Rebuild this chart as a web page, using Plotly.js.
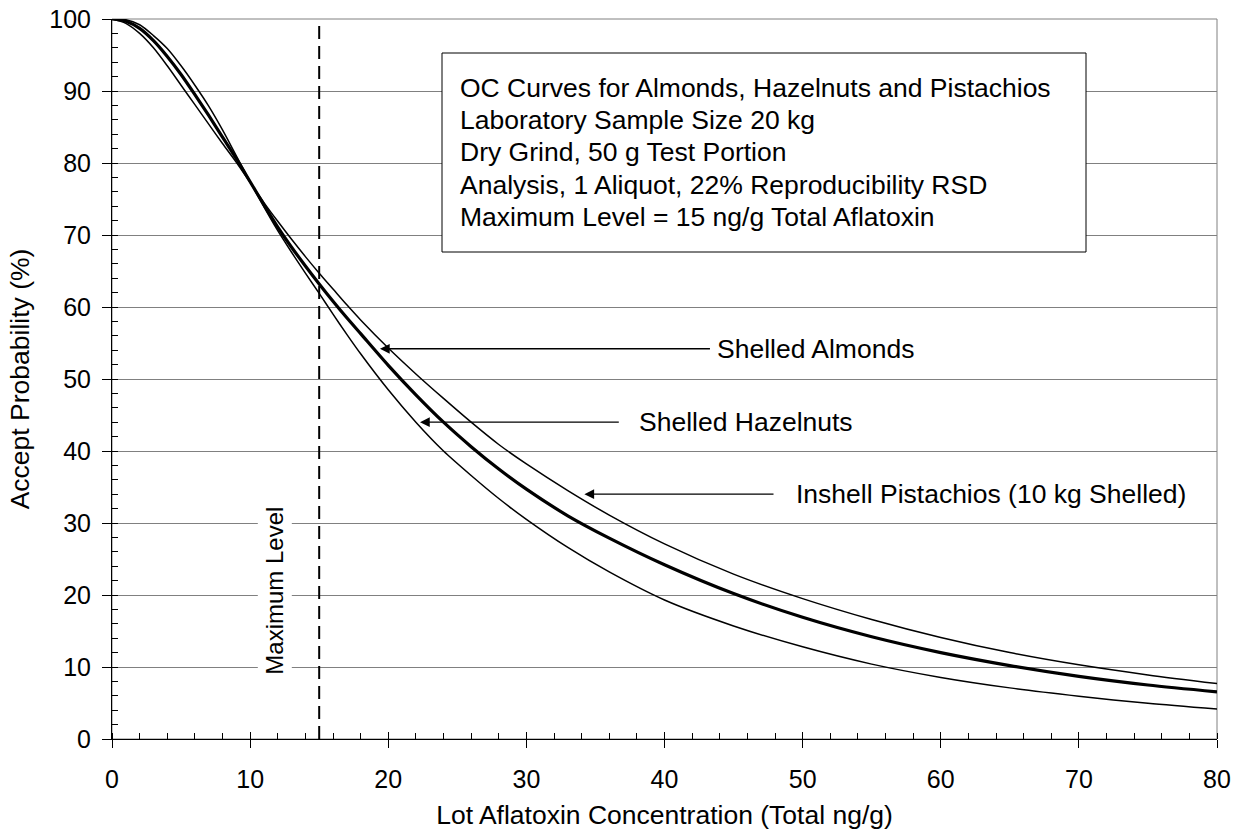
<!DOCTYPE html>
<html>
<head>
<meta charset="utf-8">
<script src="https://cdn.plot.ly/plotly-3.0.1.min.js"></script>
<style>
  html, body { margin: 0; padding: 0; background: #ffffff; }
  #chart { width: 1240px; height: 838px; }
</style>
</head>
<body>
<div id="chart"></div>
<script>
// Lot aflatoxin concentration (ng/g)
const concentration = [0,1,2,3,4,5,6,7,8,9,10,11,12,13,14,15,16,17,18,20,22,24,26,28,30,33,36,40,45,50,55,60,65,70,75,80];

// Accept probability (%)
const shelledAlmonds = [100,99.7,98.7,97.0,94.8,92.3,89.5,86.6,83.6,80.6,77.4,74.2,71.1,68.3,65.7,63.2,60.8,58.5,56.3,51.9,47.8,44.0,40.6,37.5,34.7,31.0,27.9,24.2,20.2,16.9,14.2,12.0,10.2,8.7,7.5,6.55];
const shelledHazelnuts = [100,99.9,99.2,97.7,95.9,93.5,90.8,87.9,84.6,81.0,77.4,73.9,70.6,67.6,64.7,61.9,59.0,56.2,53.5,48.5,44.0,40.0,36.6,33.4,30.5,26.6,23.2,19.3,15.7,12.8,10.4,8.55,7.1,5.95,4.95,4.15];
const inshellPistachios = [100,99.4,98.0,96.0,93.5,90.8,88.1,85.4,82.7,80.1,77.3,74.5,71.9,69.4,67.0,64.7,62.5,60.3,58.2,54.3,50.7,47.3,44.0,40.9,38.2,34.5,31.1,27.1,22.9,19.5,16.6,14.1,12.0,10.3,8.9,7.7];

// Maximum level (ng/g)
const maximumLevel = 15;

const boxLines = [
  'OC Curves for Almonds, Hazelnuts and Pistachios',
  'Laboratory Sample Size 20 kg',
  'Dry Grind, 50 g Test Portion',
  'Analysis, 1 Aliquot, 22% Reproducibility RSD',
  'Maximum Level = 15 ng/g Total Aflatoxin'
];

const FONT = 'Liberation Sans, Arial, Helvetica, sans-serif';
const FS_TICK = 25;
const FS_TEXT = 26.5;

const curveLine = (w) => ({color: '#000', width: w, shape: 'spline', smoothing: 0.8});

const traces = [
  { x: concentration, y: inshellPistachios, mode: 'lines', line: curveLine(1.5), name: 'Inshell Pistachios (10 kg Shelled)' },
  { x: concentration, y: shelledHazelnuts, mode: 'lines', line: curveLine(1.5), name: 'Shelled Hazelnuts' },
  { x: concentration, y: shelledAlmonds, mode: 'lines', line: curveLine(3.2), name: 'Shelled Almonds' },
  { x: [maximumLevel, maximumLevel], y: [0, 100], mode: 'lines', line: {color: '#000', width: 2, dash: '13px,7px'}, name: 'Maximum Level' },
  // invisible trace to activate the secondary x axis (major ticks drawn inside)
  { x: [0, 80], y: [0, 0], xaxis: 'x2', mode: 'lines', line: {width: 0}, hoverinfo: 'skip', showlegend: false, opacity: 0 }
];

function arrowOnly(tipX, tipY, tailX) {
  return {
    text: '', x: tipX, y: tipY, ax: tailX, ay: tipY, axref: 'x', ayref: 'y',
    xref: 'x', yref: 'y', showarrow: true, arrowhead: 2, arrowsize: 1.5, arrowwidth: 1.3,
    arrowcolor: '#000', standoff: 0, startstandoff: 0
  };
}
function label(text, x, y) {
  return {
    text: text, x: x, y: y, xref: 'x', yref: 'y', showarrow: false,
    xanchor: 'left', yanchor: 'middle', borderpad: 0,
    font: {family: FONT, size: FS_TEXT, color: '#000'}
  };
}

// box text lines (paper coords)
const boxLineY = [88, 120, 152, 185, 217];
const boxAnnotations = boxLines.map((t, i) => ({
  text: t, xref: 'paper', yref: 'paper', x: (459 - 112) / 1105, y: (739 - boxLineY[i]) / 720,
  xanchor: 'left', yanchor: 'middle', align: 'left', showarrow: false, borderpad: 0,
  font: {family: FONT, size: FS_TEXT, color: '#000'}
}));

const layout = {
  width: 1240, height: 838,
  margin: {l: 112, r: 23, t: 19, b: 99, pad: 0},
  paper_bgcolor: '#fff', plot_bgcolor: '#fff',
  showlegend: false,
  font: {family: FONT, size: FS_TICK, color: '#000'},
  xaxis: {
    range: [0, 80], dtick: 10, tick0: 0, showgrid: false, zeroline: false,
    showline: true, linecolor: '#000', linewidth: 1,
    ticks: 'outside', ticklen: 8, tickwidth: 1, tickcolor: '#000',
    minor: {dtick: 2, ticks: 'inside', ticklen: 6, tickcolor: '#000', showgrid: false},
    ticklabelstandoff: 10,
    tickfont: {family: FONT, size: FS_TICK, color: '#000'},
    title: {text: 'Lot Aflatoxin Concentration (Total ng/g)', font: {family: FONT, size: FS_TEXT, color: '#000'}, standoff: 13},
    automargin: false, fixedrange: true
  },
  xaxis2: {
    overlaying: 'x', anchor: 'y', side: 'bottom', range: [0, 80], dtick: 10, tick0: 0,
    showgrid: false, zeroline: false, showline: false, showticklabels: false,
    ticks: 'inside', ticklen: 7, tickcolor: '#000', automargin: false
  },
  yaxis: {
    range: [0, 100], dtick: 10, tick0: 0, showgrid: true, gridcolor: '#808080', gridwidth: 1,
    zeroline: false, showline: true, linecolor: '#000', linewidth: 1,
    ticks: 'outside', ticklen: 9, tickwidth: 1, tickcolor: '#000',
    minor: {dtick: 2, ticks: 'inside', ticklen: 6, tickcolor: '#000', showgrid: false},
    ticklabelstandoff: 6,
    tickfont: {family: FONT, size: FS_TICK, color: '#000'},
    title: {text: 'Accept Probability (%)', font: {family: FONT, size: FS_TEXT, color: '#000'}, standoff: 12},
    automargin: false, fixedrange: true
  },
  shapes: [
    {type: 'rect', xref: 'paper', yref: 'paper', x0: 0, x1: 1, y0: 0, y1: 1, line: {color: '#808080', width: 1}, layer: 'below'},
    {type: 'rect', xref: 'paper', yref: 'paper', x0: (442 - 112) / 1105, x1: (1086 - 112) / 1105,
     y0: (739 - 252) / 720, y1: (739 - 53) / 720, line: {color: '#000', width: 1}, fillcolor: '#fff', layer: 'above'}
  ],
  annotations: boxAnnotations.concat([
    {
      text: 'Maximum Level', xref: 'x', yref: 'y', x: 11.8, y: 20.6, textangle: -90,
      showarrow: false, bgcolor: '#fff', borderpad: 3,
      font: {family: FONT, size: 24, color: '#000'}
    },
    arrowOnly(19.4, 54.2, 43.4),
    label('Shelled Almonds', 43.7, 54.2),
    arrowOnly(22.3, 44.0, 36.8),
    label('Shelled Hazelnuts', 38.1, 44.0),
    arrowOnly(34.2, 34.0, 48.0),
    label('Inshell Pistachios (10 kg Shelled)', 49.45, 34.0)
  ])
};

Plotly.newPlot('chart', traces, layout, {staticPlot: true, displayModeBar: false});
</script>
</body>
</html>
